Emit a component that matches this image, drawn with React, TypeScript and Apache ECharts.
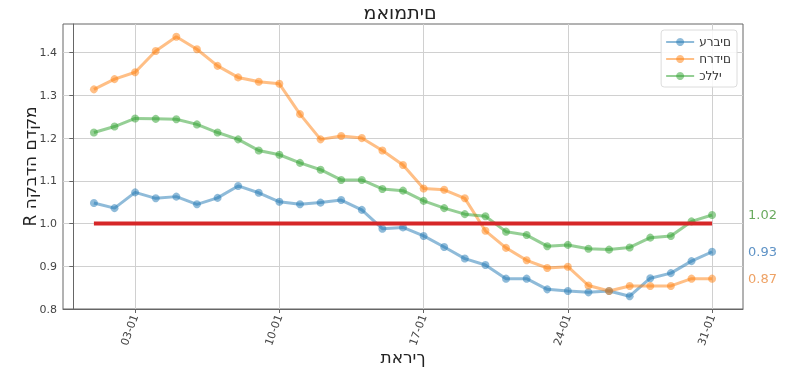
import React, { useEffect, useRef } from "react";
import * as echarts from "echarts";

const days = [1, 2, 3, 4, 5, 6, 7, 8, 9, 10, 11, 12, 13, 14, 15, 16, 17, 18, 19, 20, 21, 22, 23, 24, 25, 26, 27, 28, 29, 30, 31];
const arabs = [1.048, 1.036, 1.073, 1.059, 1.063, 1.045, 1.060, 1.088, 1.072, 1.051, 1.045, 1.049, 1.055, 1.032, 0.988, 0.991, 0.971, 0.945, 0.918, 0.903, 0.871, 0.871, 0.846, 0.842, 0.839, 0.842, 0.830, 0.872, 0.884, 0.912, 0.934];
const haredim = [1.314, 1.338, 1.354, 1.404, 1.437, 1.408, 1.369, 1.342, 1.332, 1.327, 1.256, 1.197, 1.205, 1.200, 1.171, 1.137, 1.082, 1.079, 1.059, 0.983, 0.943, 0.914, 0.896, 0.899, 0.855, 0.842, 0.854, 0.854, 0.854, 0.871, 0.871];
const general = [1.213, 1.227, 1.246, 1.245, 1.244, 1.232, 1.213, 1.197, 1.171, 1.161, 1.142, 1.126, 1.102, 1.102, 1.081, 1.077, 1.053, 1.036, 1.022, 1.017, 0.981, 0.973, 0.947, 0.950, 0.941, 0.939, 0.944, 0.967, 0.971, 1.005, 1.020];
const threshold = 1.0;
const xTicks = [3, 10, 17, 24, 31];
const yTicks = [0.8, 0.9, 1.0, 1.1, 1.2, 1.3, 1.4];
const seriesNames = ["ערבים", "חרדים", "כללי"];
const seriesColors = ["#1f77b4", "#ff7f0e", "#2ca02c"];
const labelColors = ["#5f93c6", "#eea265", "#6aaa5f"];
const titleText = "מאומתים";
const xName = "תאריך";
const yName = "מקדם הדבקה R";

const FONT = "DejaVu Sans";
// the reference lays Hebrew glyphs out left to right, in logical order
const ltr = (s: string) => "\u202D" + s + "\u202C";
const rtl = (s: string) => "\u202B" + s + "\u202C";

export default function App() {
  const ref = useRef<HTMLDivElement>(null);
  useEffect(() => {
    if (!ref.current) return;
    const chart = echarts.init(ref.current, undefined, { renderer: "svg" });
    const values = [arabs, haredim, general];
    const lineSeries = values.map((vals, i) => ({
      name: ltr(seriesNames[i]),
      type: "line",
      data: days.map((d, j) => [d, vals[j]]),
      symbol: "circle",
      symbolSize: 8,
      z: 3,
      lineStyle: { color: seriesColors[i], width: 3, opacity: 0.5 },
      itemStyle: { color: seriesColors[i], opacity: 0.5 },
      emphasis: { disabled: true },
      endLabel: {
        show: true,
        distance: 36,
        color: labelColors[i],
        fontSize: 13,
        fontFamily: FONT,
        formatter: (p: any) => Number(p.value[1]).toFixed(2),
      },
    }));
    chart.setOption({
      animation: false,
      title: {
        text: ltr(titleText),
        left: "center",
        top: 2,
        padding: 0,
        textStyle: { fontSize: 19, fontWeight: "normal", color: "#222", fontFamily: FONT },
      },
      legend: {
        data: seriesNames.map(ltr),
        orient: "vertical",
        right: 63,
        top: 30,
        itemWidth: 28,
        itemHeight: 10,
        itemGap: 5,
        padding: [6, 6, 5, 4],
        backgroundColor: "rgba(255,255,255,0.85)",
        borderColor: "#dcdcdc",
        borderWidth: 1,
        borderRadius: 3,
        textStyle: { fontSize: 12, color: "#333", fontFamily: FONT },
      },
      grid: {
        left: 63,
        right: 57,
        top: 24,
        bottom: 71,
        show: true,
        borderColor: "#666",
        borderWidth: 1,
        backgroundColor: "transparent",
      },
      xAxis: {
        type: "value",
        min: -0.5,
        max: 32.5,
        name: ltr(xName),
        nameLocation: "middle",
        nameGap: 39,
        nameMoveOverlap: false,
        nameTextStyle: { fontSize: 17, color: "#222", fontFamily: FONT },
        axisLine: { show: true, lineStyle: { color: "#666" } },
        axisTick: { show: true, customValues: xTicks, length: 4, lineStyle: { color: "#666" } },
        axisLabel: {
          customValues: xTicks,
          rotate: 70,
          margin: 6,
          fontSize: 11,
          color: "#444",
          fontFamily: FONT,
          formatter: (v: number) => String(Math.round(v)).padStart(2, "0") + "-01",
        },
        splitLine: { show: true, lineStyle: { color: "#d0d0d0", width: 1 } },
      },
      yAxis: {
        type: "value",
        min: 0.8,
        max: 1.467,
        name: rtl(yName),
        nameLocation: "middle",
        nameGap: 25,
        nameMoveOverlap: false,
        nameTextStyle: { fontSize: 17, color: "#222", fontFamily: FONT },
        axisLine: { show: true, lineStyle: { color: "#666" } },
        axisTick: { show: true, customValues: yTicks, length: 4, lineStyle: { color: "#666" } },
        axisLabel: {
          customValues: yTicks,
          margin: 6,
          fontSize: 11,
          color: "#444",
          fontFamily: FONT,
          formatter: (v: number) => v.toFixed(1),
        },
        splitLine: { show: true, lineStyle: { color: "#d0d0d0", width: 1 } },
      },
      series: [
        ...lineSeries,
        {
          name: "R=1",
          type: "line",
          data: [[days[0], threshold], [days[days.length - 1], threshold]],
          symbol: "none",
          z: 4,
          lineStyle: { color: "#d62728", width: 4 },
          emphasis: { disabled: true },
        },
      ],
    });
    return () => chart.dispose();
  }, []);
  return <div ref={ref} style={{ position: "fixed", left: 0, top: 0, width: 800, height: 380 }} />;
}
